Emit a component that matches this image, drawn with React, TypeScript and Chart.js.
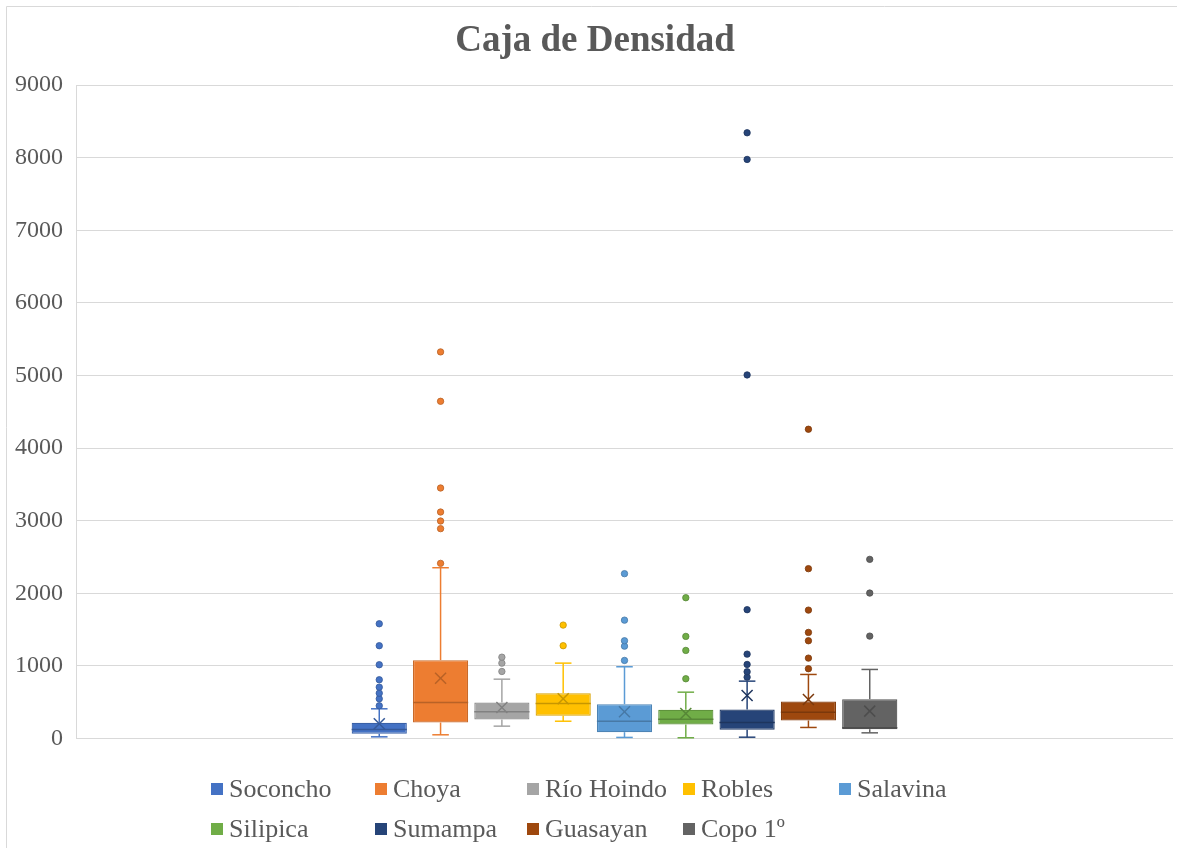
import { useEffect, useRef } from "react";
import { Chart, registerables } from "chart.js";

Chart.register(...registerables);

const chartTitle = "Caja de Densidad";
const seriesNames = ["Soconcho", "Choya", "Río Hoindo", "Robles", "Salavina", "Silipica", "Sumampa", "Guasayan", "Copo 1º"];
const seriesColors = ["#4472C4", "#ED7D31", "#A5A5A5", "#FFC000", "#5B9BD5", "#70AD47", "#264478", "#9E480E", "#636363"];
const whiskerLow = [23, 51, 170, 238, 15, 10, 18, 152, 78];
const quartile1 = [65, 220, 262, 313, 87, 193, 120, 248, 128];
const medians = [124, 496, 368, 482, 238, 266, 220, 363, 147];
const quartile3 = [216, 1079, 496, 624, 473, 395, 400, 510, 542];
const whiskerHigh = [409, 2352, 817, 1038, 988, 638, 790, 882, 951];
const means = [202, 831, 427, 547, 368, 345, 593, 537, 377];
const outliers = [
  [451, 547, 624, 707, 809, 1016, 1278, 1580],
  [2412, 2890, 2995, 3119, 3450, 4644, 5324],
  [923, 1038, 1120],
  [1278, 1562],
  [1075, 1272, 1346, 1630, 2270],
  [823, 1213, 1406, 1939],
  [845, 919, 1020, 1162, 1774, 5007, 7975, 8342],
  [961, 1107, 1346, 1461, 1768, 2339, 4259],
  [1410, 2003, 2467],
];
const yTicksMax = 9000;
const yStep = 1000;

const FONT = "'Liberation Serif', 'Times New Roman', serif";
const TEXT = "#595959";
const GRID = "#D9D9D9";

function shade(hex: string, f: number): string {
  const n = parseInt(hex.slice(1), 16);
  const r = Math.round(((n >> 16) & 255) * (1 - f));
  const g = Math.round(((n >> 8) & 255) * (1 - f));
  const b = Math.round((n & 255) * (1 - f));
  return `rgb(${r},${g},${b})`;
}

export default function App() {
  const ref = useRef<HTMLCanvasElement | null>(null);

  useEffect(() => {
    document.body.style.margin = "0";
    const canvas = ref.current;
    if (!canvas) return;

    const extras = {
      id: "boxExtras",
      afterDatasetsDraw(chart: any) {
        const ctx = chart.ctx as CanvasRenderingContext2D;
        const ys = chart.scales.y;
        const line = (x1: number, y1: number, x2: number, y2: number) => {
          ctx.beginPath();
          ctx.moveTo(x1, y1);
          ctx.lineTo(x2, y2);
          ctx.stroke();
        };
        seriesNames.forEach((_, i) => {
          const el = chart.getDatasetMeta(i).data[0];
          if (!el) return;
          const cx = el.x;
          const w = el.width;
          const col = seriesColors[i];
          const dark = shade(col, 0.22);
          const cap = w * 0.3;
          ctx.save();
          ctx.lineWidth = 1.5;
          ctx.strokeStyle = col;
          const yq1 = ys.getPixelForValue(quartile1[i]);
          const yq3 = ys.getPixelForValue(quartile3[i]);
          const yHi = ys.getPixelForValue(whiskerHigh[i]);
          const yLo = ys.getPixelForValue(whiskerLow[i]);
          line(cx, yq3, cx, yHi);
          line(cx - cap / 2, yHi, cx + cap / 2, yHi);
          line(cx, yq1, cx, yLo);
          line(cx - cap / 2, yLo, cx + cap / 2, yLo);
          ctx.strokeStyle = dark;
          ctx.lineWidth = 1.5;
          const ym = ys.getPixelForValue(medians[i]);
          line(cx - w / 2, ym, cx + w / 2, ym);
          const yMean = ys.getPixelForValue(means[i]);
          const s = 5.5;
          line(cx - s, yMean - s, cx + s, yMean + s);
          line(cx - s, yMean + s, cx + s, yMean - s);
          ctx.fillStyle = col;
          ctx.strokeStyle = dark;
          ctx.lineWidth = 0.8;
          outliers[i].forEach((v) => {
            ctx.beginPath();
            ctx.arc(cx, ys.getPixelForValue(v), 3.2, 0, Math.PI * 2);
            ctx.fill();
            ctx.stroke();
          });
          ctx.restore();
        });
      },
      afterDraw(chart: any) {
        const ctx = chart.ctx as CanvasRenderingContext2D;
        ctx.save();
        ctx.strokeStyle = GRID;
        ctx.lineWidth = 1;
        ctx.beginPath();
        ctx.moveTo(6.5, 848);
        ctx.lineTo(6.5, 6.5);
        ctx.lineTo(1177, 6.5);
        ctx.stroke();
        ctx.fillStyle = TEXT;
        ctx.font = `bold 37px ${FONT}`;
        ctx.textAlign = "center";
        ctx.textBaseline = "middle";
        ctx.fillText(chartTitle, 595, 41);
        const cols = [211, 375, 527, 683, 839];
        const rows = [789, 829];
        ctx.font = `26px ${FONT}`;
        ctx.textAlign = "left";
        seriesNames.forEach((name, i) => {
          const r = Math.floor(i / 5);
          const c = i % 5;
          const x = cols[c];
          const y = rows[r];
          ctx.fillStyle = seriesColors[i];
          ctx.fillRect(x, y - 6, 12, 12);
          ctx.fillStyle = TEXT;
          ctx.fillText(name, x + 18, y + 1);
        });
        ctx.restore();
      },
    };

    const chart = new Chart(canvas, {
      type: "bar",
      data: {
        labels: [""],
        datasets: seriesNames.map((name, i) => ({
          label: name,
          data: [[quartile1[i], quartile3[i]]] as any,
          backgroundColor: seriesColors[i],
          borderColor: shade(seriesColors[i], 0.15),
          borderWidth: 1.2,
          borderSkipped: false,
        })),
      },
      options: {
        responsive: false,
        animation: false,
        devicePixelRatio: 1,
        layout: { padding: { top: 85, bottom: 120.5, left: 0, right: 4 } },
        plugins: {
          legend: { display: false },
          title: { display: false },
          tooltip: { enabled: false },
        },
        datasets: { bar: { categoryPercentage: 0.503, barPercentage: 0.9 } },
        scales: {
          x: { display: false, grid: { display: false } },
          y: {
            min: 0,
            max: yTicksMax,
            afterFit: (s: any) => {
              s.width = 76;
            },
            ticks: {
              stepSize: yStep,
              color: TEXT,
              padding: 13,
              font: { family: FONT, size: 24 },
              callback: (v: any) => String(v),
            },
            grid: { color: GRID, lineWidth: 1, drawTicks: false },
            border: { display: true, color: GRID },
          },
        },
      },
      plugins: [extras],
    });

    return () => chart.destroy();
  }, []);

  return <canvas ref={ref} width={1177} height={859} style={{ display: "block" }} />;
}
